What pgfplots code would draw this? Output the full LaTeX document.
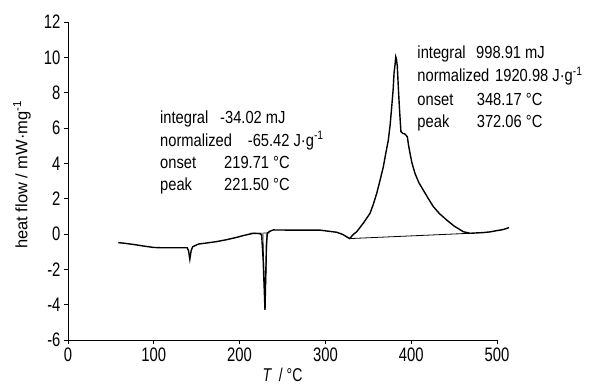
\documentclass[border=0pt]{standalone}
\usepackage{fontspec}
\setmainfont{Liberation Sans}[FakeStretch=0.76]
\newfontfamily\tickfont{Liberation Sans}[FakeStretch=0.76]
\newfontfamily\annofont{Liberation Sans}[FakeStretch=0.84]
\newfontfamily\plainfont{Liberation Sans}
\usepackage{pgfplots}
\pgfplotsset{compat=1.18}
\begin{document}
\begin{tikzpicture}
\path[use as bounding box] (-68bp,-46bp) rectangle (536bp,340bp);
\begin{axis}[
 at={(0,0)}, anchor=south west,
 scale only axis, width=429bp, height=318bp,
 xmin=0, xmax=500, ymin=-6, ymax=12,
 axis x line*=bottom, axis y line*=left,
 axis line style={-, line width=0.9bp, black},
 xtick={0,100,...,500}, ytick={-6,-4,...,12},
 tick align=outside, major tick length=4bp,
 tick style={line width=0.9bp, black},
 minor tick num=0,
 /pgf/number format/assume math mode=true,
 tick label style={font=\tickfont\fontsize{19.5bp}{21bp}\selectfont},
 xlabel={\textit{T}\, / °C},
 xlabel style={font=\tickfont\fontsize{18.5bp}{20bp}\selectfont, at={(axis description cs:0.5,-0.11)}, anchor=center},
 ylabel={heat flow / mW·mg\textsuperscript{-1}},
 ylabel style={font=\plainfont\fontsize{16.5bp}{18bp}\selectfont, at={(axis description cs:-0.107,0.52)}, anchor=center},
 clip=false,
]
\addplot[black, line width=1.4bp] coordinates {
(58.6,-0.49) (65,-0.52) (76,-0.59) (88,-0.68) (99.4,-0.76) (110,-0.78) (125,-0.78) (139,-0.78)
(140.5,-0.95) (142,-1.43) (143.5,-0.95) (145.3,-0.72) (151.9,-0.57) (160,-0.52) (173.3,-0.43)
(185,-0.32) (196.6,-0.19) (205,-0.08) (216,0.04) (224,0.02) (225.7,-0.05) (227.5,-1.5)
(229.6,-4.3) (230.4,-2.5) (231.3,-0.6) (232.3,0.04) (235,0.15) (239.3,0.23) (260,0.22)
(280,0.22) (293.7,0.22) (300,0.18) (313,0.1) (320,-0.02) (328.3,-0.26)
(332,-0.05) (336.5,0.13) (344,0.6) (352,1.17) (356,1.7) (359.8,2.3) (363.5,3.0) (367.5,3.8)
(370.5,4.6) (373.3,5.3) (375.5,6.2) (377.3,7.2) (379,8.2) (380,9.1) (381.2,9.6) (382,10.03)
(382.8,9.9) (383.8,9.5) (385,8.3) (386.2,7.2) (388,5.8) (390,5.7) (392.8,5.66) (395.5,5.5)
(397,5.0) (398.6,4.57) (401,4.0) (404.4,3.43) (409,2.9) (414,2.49) (420,2.0) (425.8,1.55)
(433,1.15) (441.4,0.79) (450,0.45) (460.7,0.13) (468.5,0.04) (476,0.06) (484,0.08)
(492,0.12) (499.6,0.19) (507,0.25) (514,0.36)
};
\addplot[black, line width=0.8bp] coordinates {(328.3,-0.26) (468.5,0.04)};
\addplot[black, line width=0.6bp] coordinates {(212,0.04) (235,0.06)};
\addplot[black, line width=0.6bp] coordinates {(227.2,0.02) (229.6,-4.3) (232.0,0.02)};
\begin{scope}[every node/.style={anchor=base west, inner sep=0pt, font=\annofont\fontsize{17.5bp}{20bp}\selectfont}]
\node at (axis cs:107.2,6.26) {integral};
\node at (axis cs:177.2,6.26) {-34.02 mJ};
\node at (axis cs:107.2,4.98) {normalized};
\node at (axis cs:209.4,4.98) {-65.42 J·g\textsuperscript{-1}};
\node at (axis cs:107.2,3.70) {onset};
\node at (axis cs:181.8,3.70) {219.71 °C};
\node at (axis cs:107.2,2.45) {peak};
\node at (axis cs:181.8,2.45) {221.50 °C};
\node at (axis cs:407.1,9.94) {integral};
\node at (axis cs:475.5,9.94) {998.91 mJ};
\node at (axis cs:407.1,8.62) {normalized};
\node at (axis cs:497.7,8.62) {1920.98 J·g\textsuperscript{-1}};
\node at (axis cs:407.1,7.30) {onset};
\node at (axis cs:476.3,7.30) {348.17 °C};
\node at (axis cs:407.1,6.04) {peak};
\node at (axis cs:476.3,6.04) {372.06 °C};
\end{scope}
\end{axis}
\end{tikzpicture}
\end{document}
